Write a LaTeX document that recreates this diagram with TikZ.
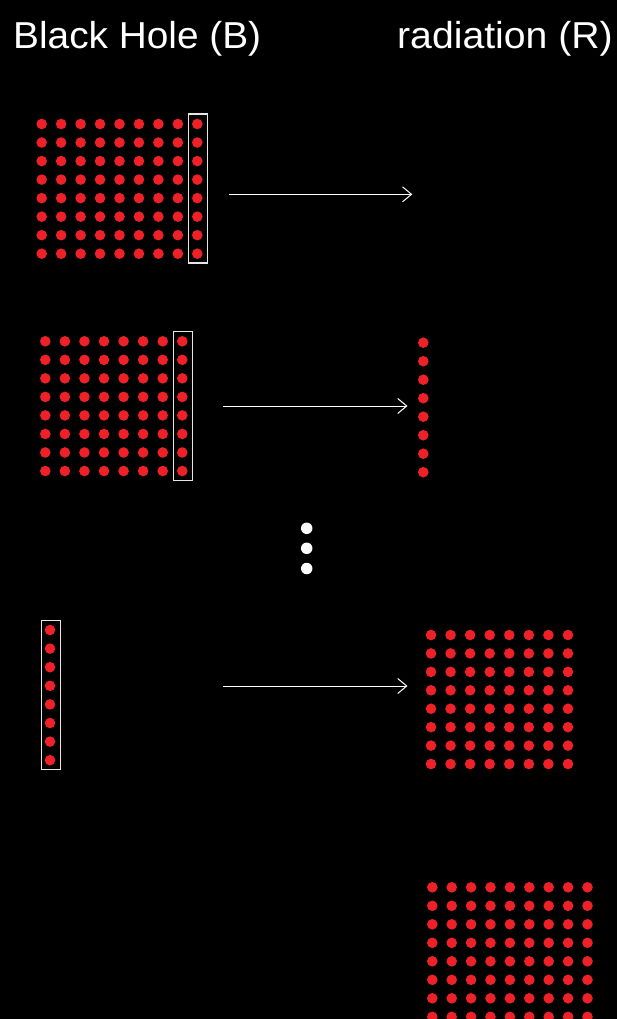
\documentclass[tikz,border=0pt]{standalone}
\usepackage{fontspec}
\setmainfont{Liberation Sans}
\usetikzlibrary{arrows.meta}
\definecolor{dotred}{HTML}{EE2028}
\definecolor{boxgray}{HTML}{E6E6E6}
\tikzset{
  qdot/.style={circle,fill=dotred,draw=none,inner sep=0pt,minimum size=10.6pt},
  edot/.style={circle,fill=white,draw=none,inner sep=0pt,minimum size=11.5pt},
  selbox/.style={draw=boxgray,line width=1.1pt,inner sep=0pt,fill=none},
  flow/.style={draw=white,line width=1pt,-{Straight Barb[length=9pt,width=15pt,line width=1pt]}},
  title/.style={text=white,font=\fontsize{37.5}{40}\selectfont,inner sep=0pt}
}
\begin{document}
\begin{tikzpicture}[x=1pt,y=-1pt]
\useasboundingbox (0,0) rectangle (616,1019);
\fill[black] (-3,-3) rectangle (619,1022);
\clip (0,0) rectangle (616,1019);
% titles
\node[title,anchor=base west] (tB) at (13,49) {\scalebox{1.035}[1]{Black Hole (B)}};
\node[title,anchor=base east] (tR) at (613,49) {\scalebox{1.045}[1]{radiation (R)}};
% grid 1 (B, 9x8)
\foreach \i in {0,...,8}{\foreach \j in {0,...,7}{
  \node[qdot] (ga-\i-\j) at ({41.7+19.45*\i},{124+18.53*\j}) {};}}
\node[selbox,minimum width=19.3pt,minimum height=149pt] (boxa) at (197.7,188.5) {};
% grid 2 (B, 8x8)
\foreach \i in {0,...,7}{\foreach \j in {0,...,7}{
  \node[qdot] (gb-\i-\j) at ({45.3+19.57*\i},{341.3+18.53*\j}) {};}}
\node[selbox,minimum width=19pt,minimum height=148.6pt] (boxb) at (182.8,406) {};
% R column after step 2
\foreach \j in {0,...,7}{
  \node[qdot] (rb-\j) at (423.3,{342.7+18.5*\j}) {};}
% ellipsis
\node[edot] (e1) at (306.7,528.3) {};
\node[edot] (e2) at (306.7,548.3) {};
\node[edot] (e3) at (306.7,568.5) {};
% B column, step 3
\foreach \j in {0,...,7}{
  \node[qdot] (gc-\j) at (50,{630+18.6*\j}) {};}
\node[selbox,minimum width=19.3pt,minimum height=148.6pt] (boxc) at (50.7,695) {};
% R grid step 3 (8x8)
\foreach \i in {0,...,7}{\foreach \j in {0,...,7}{
  \node[qdot] (rc-\i-\j) at ({431+19.57*\i},{635+18.43*\j}) {};}}
% R grid final (9x9, clipped)
\foreach \i in {0,...,8}{\foreach \j in {0,...,8}{
  \node[qdot] (rd-\i-\j) at ({432.3+19.4*\i},{887.3+18.5*\j}) {};}}
% arrows
\coordinate (a1s) at (229,194.3);
\coordinate (a1e) at (412.3,194.3);
\coordinate (a2s) at (223,406);
\coordinate (a2e) at (407.5,406);
\coordinate (a3s) at (223,686);
\coordinate (a3e) at (407.5,686);
\draw[flow] (a1s) -- (a1e);
\draw[flow] (a2s) -- (a2e);
\draw[flow] (a3s) -- (a3e);
\end{tikzpicture}
\end{document}
